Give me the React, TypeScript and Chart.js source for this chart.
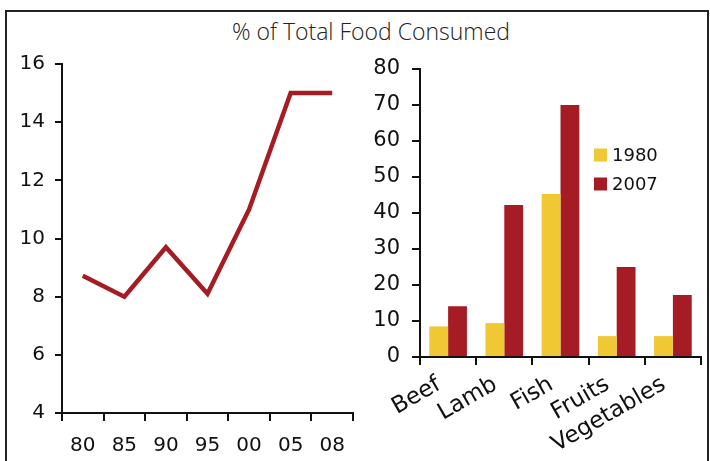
import React, { useEffect, useRef } from 'react';
import { Chart, registerables } from 'chart.js';

Chart.register(...registerables);

const titleText = '% of Total Food Consumed';
const years = ['80', '85', '90', '95', '00', '05', '08'];
const shareValues = [8.72, 8.0, 9.7, 8.1, 11.0, 15.0, 15.0];
const lineTickMin = 4;
const lineTickMax = 16;
const lineTickStep = 2;

const foods = ['Beef', 'Lamb', 'Fish', 'Fruits', 'Vegetables'];
const seriesLabels = ['1980', '2007'];
const values1980 = [8.5, 9.4, 45.3, 5.8, 5.8];
const values2007 = [14.1, 42.2, 70.0, 25.0, 17.2];
const barTickMin = 0;
const barTickMax = 80;
const barTickStep = 10;

const RED = '#a51c24';
const YELLOW = '#f0c833';
const INK = '#111111';
const FONT = 'DejaVu Sans';

const legendPlugin = {
  id: 'insideLegend',
  afterDraw(chart: any) {
    const { ctx, chartArea } = chart;
    const x = chartArea.left + 174;
    let y = chartArea.top + 86;
    ctx.save();
    ctx.font = `18px "${FONT}"`;
    ctx.textBaseline = 'middle';
    ctx.textAlign = 'left';
    chart.data.datasets.forEach((ds: any) => {
      ctx.fillStyle = ds.backgroundColor;
      ctx.fillRect(x, y - 6.5, 13, 13);
      ctx.fillStyle = INK;
      ctx.fillText(ds.label, x + 18, y + 1);
      y += 29;
    });
    ctx.restore();
  },
};

function axisGrid(len: number, offset = false) {
  return {
    display: true,
    drawOnChartArea: false,
    drawTicks: true,
    tickLength: len,
    color: INK,
    lineWidth: 2,
    offset,
  };
}

export default function App() {
  const lineRef = useRef<HTMLCanvasElement>(null);
  const barRef = useRef<HTMLCanvasElement>(null);

  useEffect(() => {
    const lineChart = new Chart(lineRef.current!, {
      type: 'line',
      data: {
        labels: years,
        datasets: [
          {
            data: shareValues,
            borderColor: RED,
            borderWidth: 4.5,
            pointRadius: 0,
            tension: 0,
            fill: false,
          },
        ],
      },
      options: {
        animation: false,
        responsive: false,
        devicePixelRatio: 1,
        layout: { padding: { top: 64, right: 7, left: 0, bottom: 0 } },
        plugins: { legend: { display: false }, tooltip: { enabled: false } },
        scales: {
          x: {
            type: 'category',
            offset: true,
            grid: axisGrid(8, true),
            border: { display: true, color: INK, width: 2 },
            ticks: { color: INK, font: { family: FONT, size: 20 }, padding: 13, maxRotation: 0 },
            afterFit: (s: any) => {
              s.height = 48;
            },
          },
          y: {
            min: lineTickMin,
            max: lineTickMax,
            grid: axisGrid(7),
            border: { display: true, color: INK, width: 2 },
            ticks: { stepSize: lineTickStep, color: INK, font: { family: FONT, size: 20 }, padding: 10 },
            afterFit: (s: any) => {
              s.width = 62;
            },
          },
        },
      },
    } as any);

    const barChart = new Chart(barRef.current!, {
      type: 'bar',
      data: {
        labels: foods,
        datasets: [
          { label: seriesLabels[0], data: values1980, backgroundColor: YELLOW, borderWidth: 0 },
          { label: seriesLabels[1], data: values2007, backgroundColor: RED, borderWidth: 0 },
        ],
      },
      options: {
        animation: false,
        responsive: false,
        devicePixelRatio: 1,
        layout: { padding: { top: 69, right: 9, left: 0, bottom: 0 } },
        datasets: { bar: { barPercentage: 1, categoryPercentage: 0.67 } },
        plugins: { legend: { display: false }, tooltip: { enabled: false } },
        scales: {
          x: {
            grid: axisGrid(8, true),
            border: { display: true, color: INK, width: 2 },
            ticks: {
              color: INK,
              font: { family: FONT, size: 23 },
              padding: 6,
              labelOffset: -9,
              minRotation: 30,
              maxRotation: 30,
              autoSkip: false,
            },
            afterFit: (s: any) => {
              s.height = 104;
            },
          },
          y: {
            min: barTickMin,
            max: barTickMax,
            grid: axisGrid(8),
            border: { display: true, color: INK, width: 2 },
            ticks: { stepSize: barTickStep, color: INK, font: { family: FONT, size: 21 }, padding: 12 },
            afterFit: (s: any) => {
              s.width = 60;
            },
          },
        },
      },
      plugins: [legendPlugin],
    } as any);

    return () => {
      lineChart.destroy();
      barChart.destroy();
    };
  }, []);

  return (
    <div
      style={{
        position: 'fixed',
        left: 0,
        top: 0,
        width: 710,
        height: 461,
        overflow: 'hidden',
        background: '#fff',
      }}
    >
      <div
        style={{
          position: 'absolute',
          left: 5,
          top: 10,
          width: 704,
          height: 480,
          boxSizing: 'border-box',
          border: '2px solid #222',
        }}
      />
      <div
        style={{
          position: 'absolute',
          left: 171,
          top: 17,
          width: 400,
          textAlign: 'center',
          fontFamily: '"Open Sans", sans-serif',
          fontWeight: 300,
          fontSize: 23,
          lineHeight: '28px',
          color: '#222',
          whiteSpace: 'nowrap',
        }}
      >
        {titleText}
      </div>
      <canvas
        ref={lineRef}
        width={360}
        height={461}
        style={{ position: 'absolute', left: 0, top: 0, width: 360, height: 461 }}
      />
      <canvas
        ref={barRef}
        width={350}
        height={461}
        style={{ position: 'absolute', left: 360, top: 0, width: 350, height: 461 }}
      />
    </div>
  );
}
